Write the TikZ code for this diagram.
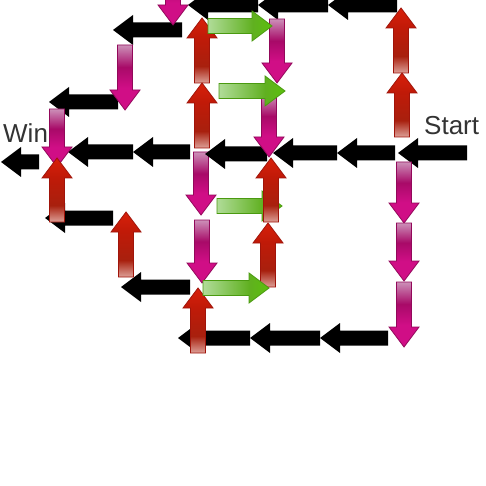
\documentclass[tikz,border=0pt]{standalone}
\usepackage{fontspec}
\setmainfont{Liberation Sans}
\usepackage{tikz}

\definecolor{redtip}{HTML}{D8200A}
\definecolor{redmain}{HTML}{C01A08}
\definecolor{reddark}{HTML}{A8200E}
\definecolor{redlight}{HTML}{DDA098}
\definecolor{redline}{HTML}{A0140A}
\definecolor{magtip}{HTML}{D00E86}
\definecolor{magdark}{HTML}{A80A68}
\definecolor{maglight}{HTML}{CC90B8}
\definecolor{magline}{HTML}{92085A}
\definecolor{greentip}{HTML}{5CC00C}
\definecolor{greenmid}{HTML}{60B020}
\definecolor{greenlight}{HTML}{B0DC98}
\definecolor{greenline}{HTML}{4A9A10}
\definecolor{labeltext}{HTML}{333333}

\pgfdeclareverticalshading{redup}{100bp}{color(0bp)=(redlight); color(25bp)=(redlight); color(38bp)=(reddark); color(60bp)=(redmain); color(75bp)=(redtip); color(100bp)=(redtip)}
\pgfdeclareverticalshading{magdown}{100bp}{color(0bp)=(magtip); color(25bp)=(magtip); color(42bp)=(magtip); color(58bp)=(magdark); color(75bp)=(maglight); color(100bp)=(maglight)}
\pgfdeclarehorizontalshading{greenright}{100bp}{color(0bp)=(greenlight); color(25bp)=(greenlight); color(60bp)=(greenmid); color(75bp)=(greentip); color(100bp)=(greentip)}

\tikzstyle{blackarrow} = [fill=black]
\tikzstyle{redarrow} = [shade, shading=redup, draw=redline, line width=0.8]
\tikzstyle{magarrow} = [shade, shading=magdown, draw=magline, line width=0.8]
\tikzstyle{greenarrow} = [shade, shading=greenright, draw=greenline, line width=0.8]
\tikzstyle{label} = [anchor=base west, text=labeltext, font=\fontsize{26}{30}\selectfont, inner sep=0]

% #1 style, #2 tip x, #3 y, #4 tail x
\newcommand\harrow[4]{%
  \pgfmathsetmacro\hb{(#4>#2)?(#2+20):(#2-20)}
  \path[#1] (#2,#3) -- (\hb,{#3-15}) -- (\hb,{#3-7.5}) -- (#4,{#3-7.5})
    -- (#4,{#3+7.5}) -- (\hb,{#3+7.5}) -- (\hb,{#3+15}) -- cycle;}
% #1 style, #2 x, #3 tip y, #4 tail y
\newcommand\varrow[4]{%
  \pgfmathsetmacro\vb{(#4>#3)?(#3+20):(#3-20)}
  \path[#1] (#2,#3) -- ({#2-15},\vb) -- ({#2-7.5},\vb) -- ({#2-7.5},#4)
    -- ({#2+7.5},#4) -- ({#2+7.5},\vb) -- ({#2+15},\vb) -- cycle;}

\begin{document}
\begin{tikzpicture}[x=1pt, y=-1pt]
\useasboundingbox (0,0) rectangle (486,486);

\varrow{magarrow}{201}{215}{152}

% black arrows
\harrow{blackarrow}{188}{5}{258}
\harrow{blackarrow}{258}{5}{328}
\harrow{blackarrow}{328}{5}{397}
\harrow{blackarrow}{113}{30}{182}
\harrow{blackarrow}{49}{102}{118}
\harrow{blackarrow}{1}{162}{39}
\harrow{blackarrow}{68}{152}{133}
\harrow{blackarrow}{133}{152}{190}
\harrow{blackarrow}{205}{154}{267}
\harrow{blackarrow}{273}{153}{337}
\harrow{blackarrow}{337}{153}{395}
\harrow{blackarrow}{398}{153}{467}
\harrow{blackarrow}{45}{218}{113}
\harrow{blackarrow}{121}{287}{190}
\harrow{blackarrow}{178}{338}{250}
\harrow{blackarrow}{250}{338}{320}
\harrow{blackarrow}{320}{338}{388}

% magenta arrows
\varrow{magarrow}{173}{25}{-40}
\varrow{magarrow}{125}{110}{45}
\varrow{magarrow}{57}{167}{109}
\varrow{magarrow}{277}{83}{19}
\varrow{magarrow}{269}{157}{95}
\varrow{magarrow}{202}{283}{220}
\varrow{magarrow}{404}{223}{162}
\varrow{magarrow}{404}{281}{223}
\varrow{magarrow}{404}{347}{282}

\harrow{greenarrow}{282}{206}{217}

% red arrows
\varrow{redarrow}{202}{18}{83}
\varrow{redarrow}{202}{83}{148}
\varrow{redarrow}{401}{8}{73}
\varrow{redarrow}{402}{73}{137}
\varrow{redarrow}{57}{158}{222}
\varrow{redarrow}{126}{212}{277}
\varrow{redarrow}{271}{158}{222}
\varrow{redarrow}{268}{223}{287}
\varrow{redarrow}{198}{288}{353}

% green arrows
\harrow{greenarrow}{272}{26}{208}
\harrow{greenarrow}{285}{91}{219}
\harrow{greenarrow}{269}{288}{203}

\node (win) [label] at (3,143) {Win};
\node (start) [label] at (424,135) {Start};

\end{tikzpicture}
\end{document}
